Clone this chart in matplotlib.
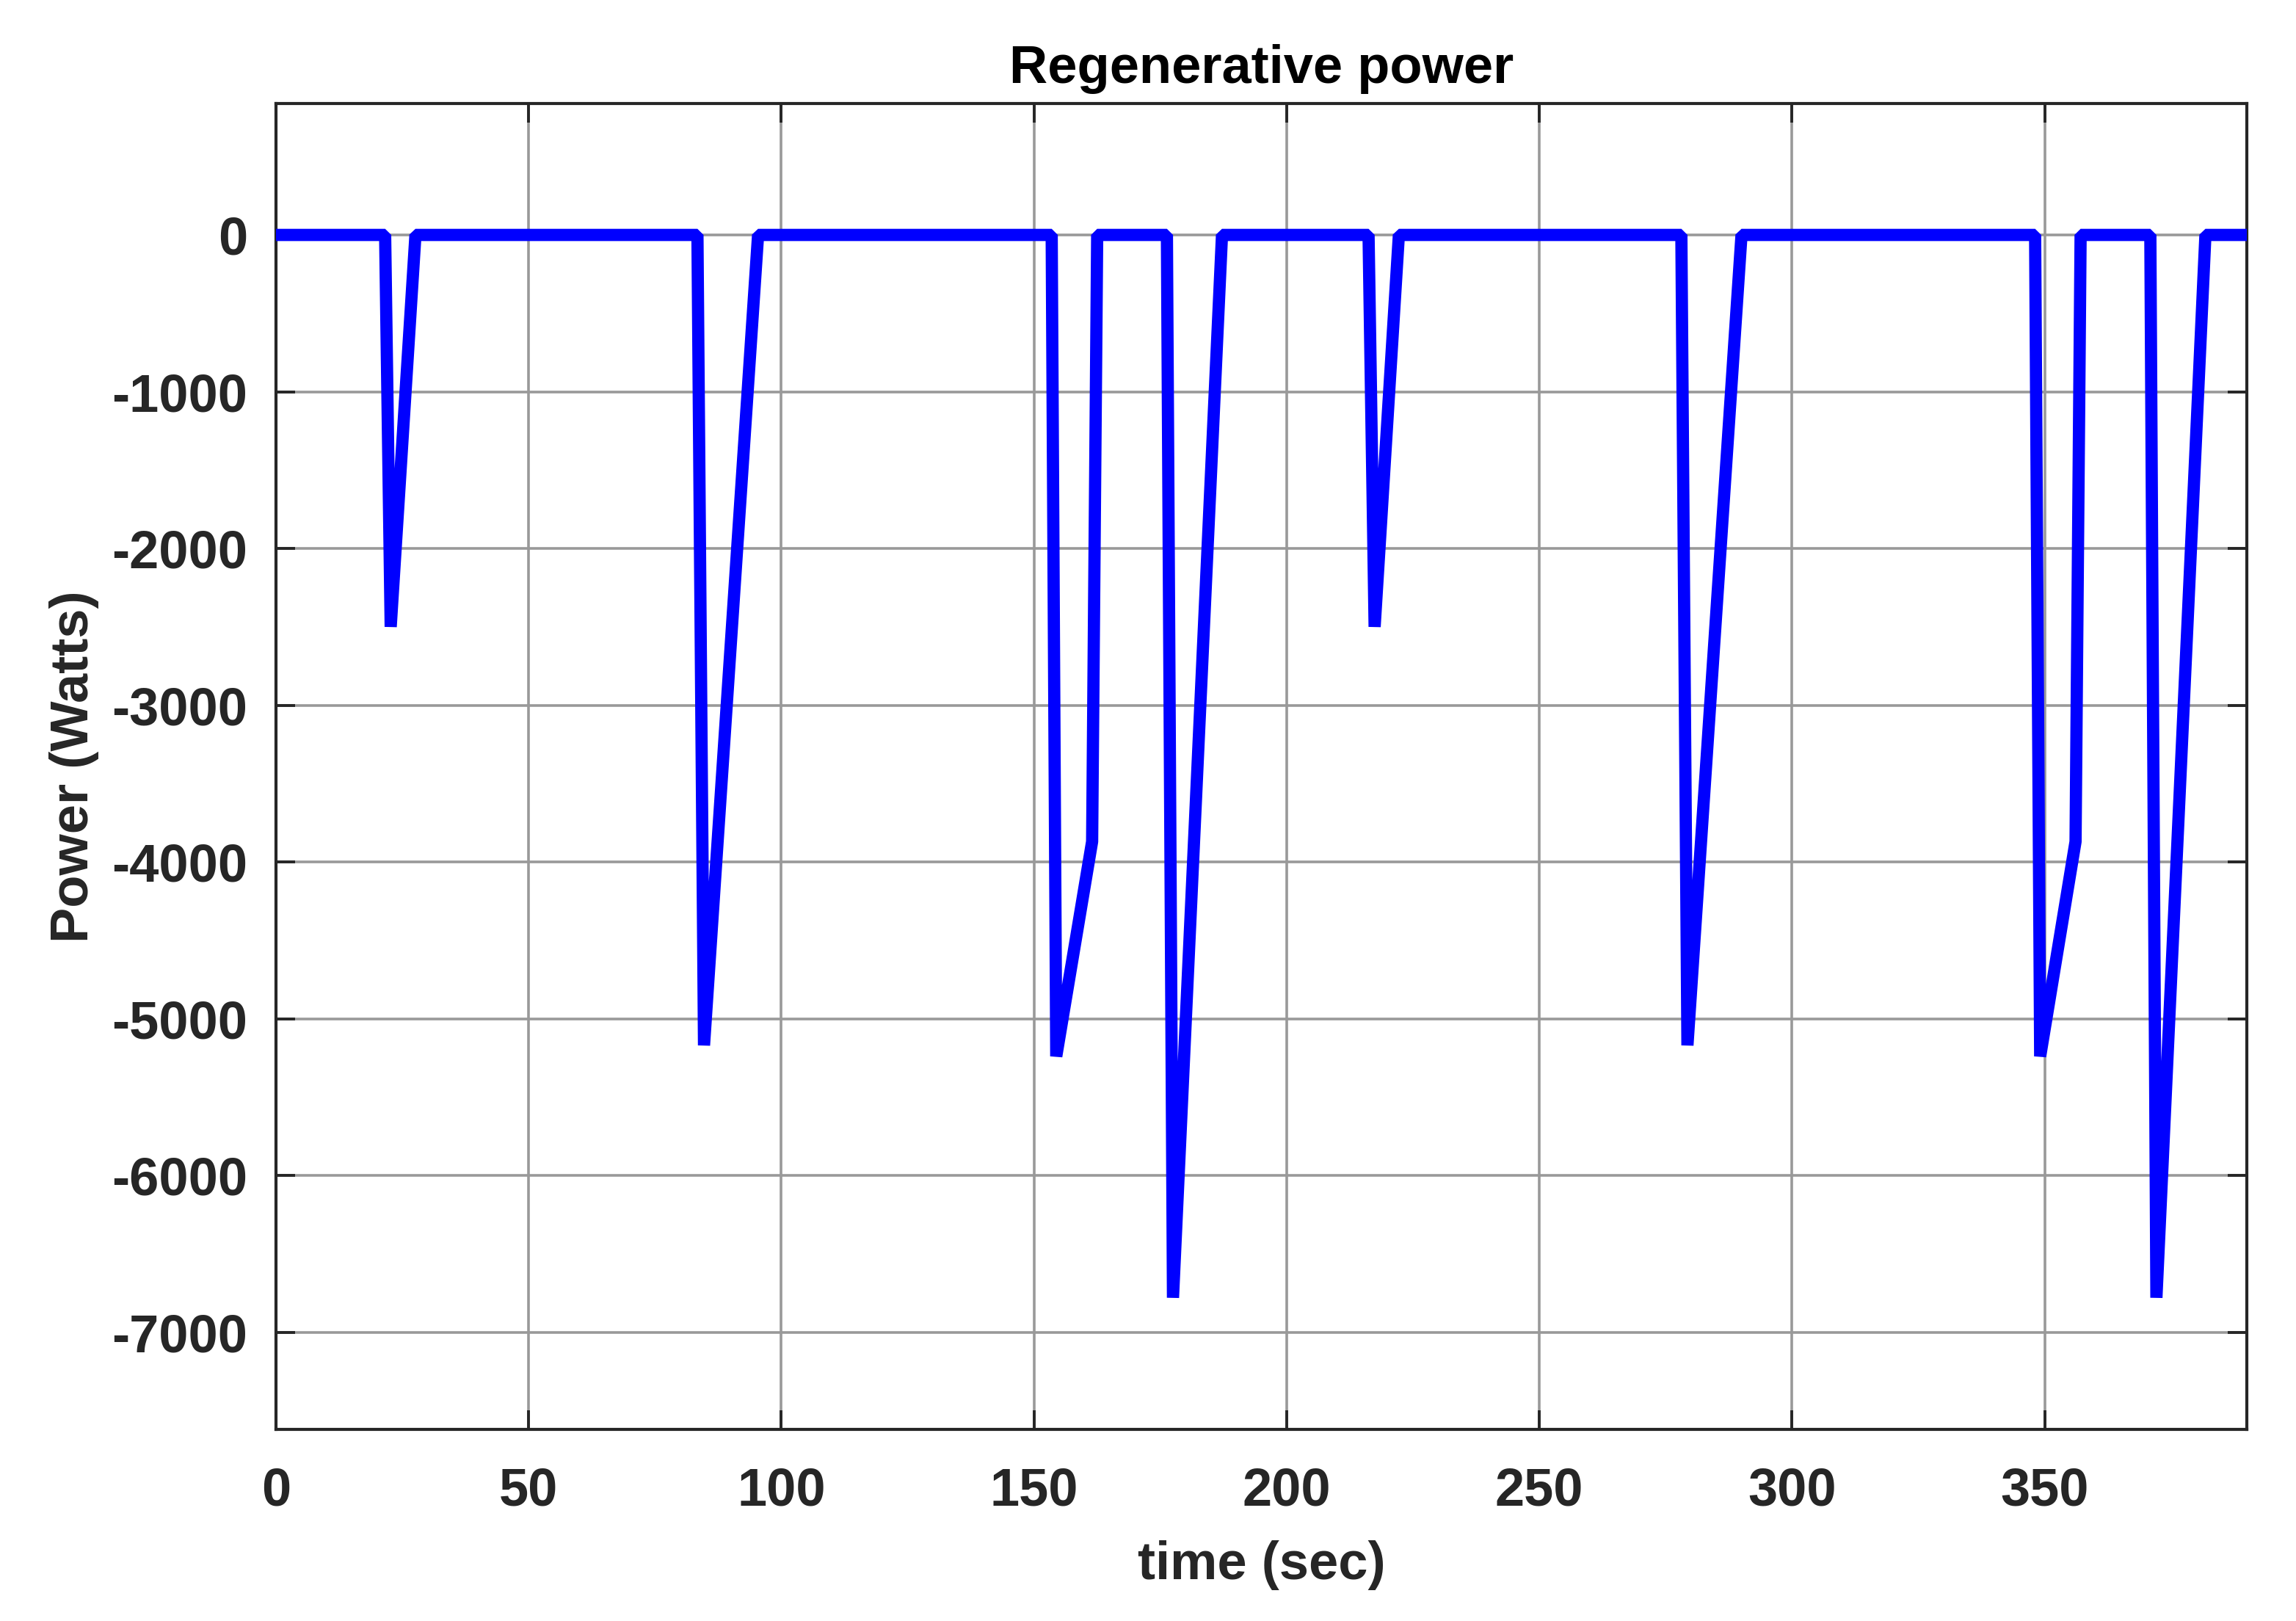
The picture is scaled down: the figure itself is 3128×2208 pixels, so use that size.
import matplotlib.pyplot as plt

# regenerative power trace (time in s, power in W)
time = [0, 21.6, 22.7, 27.6, 83.4, 84.7, 95.4,
        153.5, 154.4, 161.5, 162.5, 176.3, 177.5, 187.2,
        216.2, 217.4, 222.2, 278.1, 279.3, 290.0,
        348.1, 349.1, 356.1, 357.1, 370.9, 372.1, 381.8, 390]
power = [0, 0, -2500, 0, 0, -5170, 0,
         0, -5240, -3870, 0, 0, -6780, 0,
         0, -2500, 0, 0, -5170, 0,
         0, -5240, -3870, 0, 0, -6780, 0, 0]

xticks = [0, 50, 100, 150, 200, 250, 300, 350]
yticks = [0, -1000, -2000, -3000, -4000, -5000, -6000, -7000]

plt.rcParams['font.family'] = ['Liberation Sans', 'DejaVu Sans']
plt.rcParams['font.weight'] = 'bold'
plt.rcParams['axes.unicode_minus'] = False

fig = plt.figure(figsize=(15.64, 11.04), dpi=200)
ax = fig.add_axes([0.1202, 0.1182, 0.9786 - 0.1202, 0.9361 - 0.1182])

ax.plot(time, power, color='#0000ff', lw=6, solid_joinstyle='bevel',
        solid_capstyle='butt', zorder=3)

ax.set_xlim(0, 390)
ax.set_ylim(-7620, 838)
ax.set_xticks(xticks)
ax.set_yticks(yticks)
ax.grid(True, color='#999999', lw=1.3)
ax.set_axisbelow(True)

ax.tick_params(direction='in', length=9.5, width=1.4, color='#262626',
               labelsize=26, labelcolor='#262626', top=True, right=True)
ax.tick_params(axis='x', pad=18)
ax.tick_params(axis='y', pad=14)
for sp in ax.spines.values():
    sp.set_linewidth(1.5)
    sp.set_color('#262626')

ax.set_title('Regenerative power', fontsize=26, fontweight='bold', pad=10)
ax.set_xlabel('time (sec)', fontsize=26, fontweight='bold',
              color='#262626', labelpad=12)
ax.set_ylabel('Power (Watts)', fontsize=26, fontweight='bold',
              color='#262626', labelpad=6)

fig.savefig('out.png', dpi=200, facecolor='white')
